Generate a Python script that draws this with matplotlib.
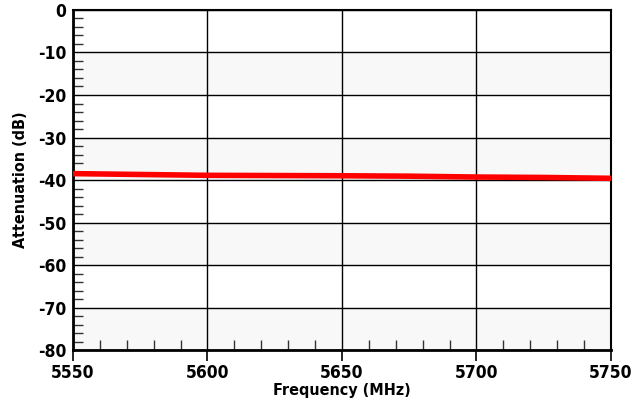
import matplotlib.pyplot as plt
from matplotlib.ticker import MultipleLocator

plt.rcParams['font.family'] = ['DejaVu Sans']
plt.rcParams['font.stretch'] = 'condensed'
plt.rcParams['axes.unicode_minus'] = False

# trace values
freq = [5550, 5575, 5600, 5625, 5650, 5675, 5700, 5725, 5750]
atten = [-38.5, -38.7, -38.9, -38.95, -39.0, -39.1, -39.3, -39.4, -39.6]
bands = [(-20, -10), (-40, -30), (-60, -50), (-80, -70)]

fig = plt.figure(figsize=(6.42, 4.13), dpi=100)
ax = fig.add_axes([0.1137, 0.1525, 0.838, 0.8233])

for lo, hi in bands:
    ax.axhspan(lo, hi, color='#f8f8f8', zorder=0)

ax.set_xlim(5550, 5750)
ax.set_ylim(-80, 0)
ax.xaxis.set_major_locator(MultipleLocator(50))
ax.xaxis.set_minor_locator(MultipleLocator(10))
ax.yaxis.set_major_locator(MultipleLocator(10))
ax.yaxis.set_minor_locator(MultipleLocator(2))
ax.grid(True, which='major', color='black', lw=1.0, zorder=1)

ax.plot(freq, atten, color='red', lw=4, zorder=3)

ax.tick_params(which='major', direction='out', length=8, width=1.2,
               labelsize=12.5, pad=2)
ax.tick_params(which='minor', direction='in', length=7.5, width=1.0, color='#333333')
ax.tick_params(axis='y', which='major', length=0, pad=5)
for lab in ax.get_xticklabels() + ax.get_yticklabels():
    lab.set_fontweight('bold')

for s in ['left', 'bottom']:
    ax.spines[s].set_linewidth(2)
for s in ['right', 'top']:
    ax.spines[s].set_linewidth(1.5)

ax.set_xlabel('Frequency (MHz)', fontsize=11.5, fontweight='bold', labelpad=1)
ax.set_ylabel('Attenuation (dB)', fontsize=11.5, fontweight='bold', labelpad=7)

fig.savefig('out.png', dpi=100)
